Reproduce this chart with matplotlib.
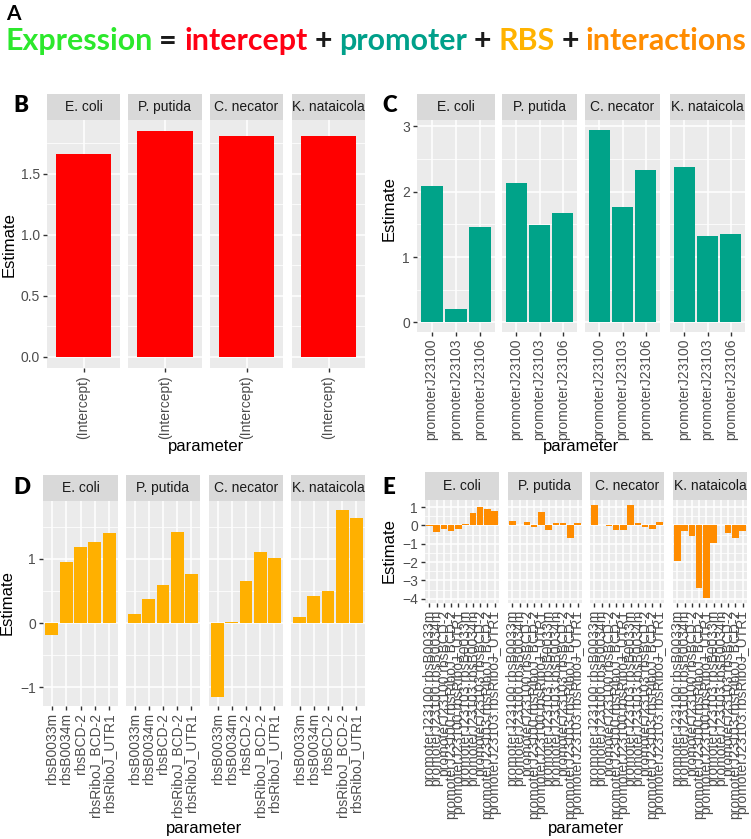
import numpy as np
import matplotlib
matplotlib.use("Agg")
import matplotlib.pyplot as plt

plt.rcParams['font.family'] = ['Liberation Sans', 'DejaVu Sans']

# data
species = ["E. coli", "P. putida", "C. necator", "K. nataicola"]

intercept_terms = ["(Intercept)"]
intercept_est = [[1.66], [1.85], [1.81], [1.81]]

promoter_terms = ["promoterJ23100", "promoterJ23103", "promoterJ23106"]
promoter_est = [[2.09, 0.20, 1.46],
                [2.14, 1.49, 1.67],
                [2.95, 1.76, 2.33],
                [2.38, 1.32, 1.36]]

rbs_terms = ["rbsB0033m", "rbsB0034m", "rbsBCD-2", "rbsRiboJ_BCD-2", "rbsRiboJ_UTR1"]
rbs_est = [[-0.18, 0.95, 1.18, 1.26, 1.40],
           [0.145, 0.375, 0.60, 1.42, 0.77],
           [-1.145, 0.02, 0.655, 1.11, 1.02],
           [0.09, 0.425, 0.50, 1.755, 1.63]]

inter_terms = ["promoterJ23100:rbsB0033m", "promoterJ23100:rbsB0034m",
               "promoterJ23100:rbsBCD-2", "promoterJ23100:rbsRiboJ_BCD-2",
               "promoterJ23100:rbsRiboJ_UTR1", "promoterJ23103:rbsB0033m",
               "promoterJ23103:rbsB0034m", "promoterJ23103:rbsBCD-2",
               "promoterJ23103:rbsRiboJ_BCD-2", "promoterJ23103:rbsRiboJ_UTR1"]
inter_est = [[-0.02, -0.35, -0.22, -0.29, -0.18, 0.09, 0.69, 0.98, 0.91, 0.78],
             [0.24, 0.01, 0.16, -0.09, 0.75, -0.24, 0.15, 0.11, -0.67, 0.15],
             [1.09, 0.01, -0.01, -0.27, -0.27, 1.13, 0.11, -0.09, -0.22, 0.20],
             [-1.95, -0.29, -0.58, -3.40, -3.98, -0.98, 0.01, -0.42, -0.69, -0.31]]

W, H = 751, 839
fig = plt.figure(figsize=(W / 100, H / 100), dpi=100)


def px_axes(l, r, top, bottom):
    """axes from pixel coords (top-left origin)"""
    return fig.add_axes([l / W, 1 - bottom / H, (r - l) / W, (bottom - top) / H])


def px_text(x, y, s, **kw):
    return fig.text(x / W, 1 - y / H, s, **kw)


def facet_panel(cols, strip_top, top, bottom, terms, values, color,
                yticks, ylabels, label_size=10):
    allv = [v for row in values for v in row] + [0]
    lo, hi = min(allv), max(allv)
    span = hi - lo
    lo, hi = lo - 0.05 * span, hi + 0.05 * span
    step = yticks[1] - yticks[0]
    minor = [t + step / 2 for t in [yticks[0] - step] + list(yticks)
             if lo < t + step / 2 < hi]
    xs = np.arange(1, len(terms) + 1)

    for i, sp in enumerate(species):
        l, r = cols[i]
        ax = px_axes(l, r, top, bottom)
        ax.set_facecolor('#EBEBEB')
        ax.bar(xs, values[i], width=0.9, color=color, zorder=3)
        ax.set_xlim(0.4, len(terms) + 0.6)
        ax.set_ylim(lo, hi)
        for s in ax.spines.values():
            s.set_visible(False)
        ax.set_axisbelow(True)
        ax.set_xticks(xs)
        ax.set_xticklabels(terms, rotation=90, fontsize=label_size, color='#4D4D4D')
        ax.set_yticks(yticks)
        ax.set_yticklabels(ylabels, fontsize=10, color='#4D4D4D')
        ax.set_yticks(minor, minor=True)
        ax.grid(True, which='major', color='white', linewidth=1.1)
        ax.grid(True, which='minor', axis='y', color='white', linewidth=0.55)
        ax.tick_params(which='major', length=3, width=1.0, color='#333333', pad=2)
        ax.tick_params(which='minor', length=0)
        if i > 0:
            ax.tick_params(axis='y', length=0, labelleft=False)

        strip = px_axes(l, r, strip_top, top)
        strip.set_facecolor('#D9D9D9')
        strip.set_xticks([])
        strip.set_yticks([])
        for s in strip.spines.values():
            s.set_visible(False)
        strip.text(0.5, 0.5, sp, ha='center', va='center', fontsize=10,
                   color='#1A1A1A', transform=strip.transAxes)


# panel B - intercept
facet_panel([(47, 120), (128, 202), (210, 283), (292, 365)], 94, 120, 368,
            intercept_terms, intercept_est, '#FF0000',
            [0, 0.5, 1.0, 1.5], ["0.0", "0.5", "1.0", "1.5"])
# panel C - promoter
facet_panel([(417, 495), (502, 577), (585, 660), (670, 745)], 94, 120, 332,
            promoter_terms, promoter_est, '#00A389',
            [0, 1, 2, 3], ["0", "1", "2", "3"])
# panel D - RBS
facet_panel([(43, 118), (126, 200), (209, 283), (291, 365)], 475, 501, 706,
            rbs_terms, rbs_est, '#FFB000',
            [-1, 0, 1], ["\u22121", "0", "1"])
# panel E - interactions
facet_panel([(425, 499), (508, 582), (590, 664), (673, 747)], 472, 500, 603,
            inter_terms, inter_est, '#FF8C00',
            [-4, -3, -2, -1, 0, 1],
            ["\u22124", "\u22123", "\u22122", "\u22121", "0", "1"])

# axis titles
for x, y in [(9, 245), (389, 209), (7, 603), (389, 551)]:
    px_text(x, y, "Estimate", rotation=90, ha='center', va='center', fontsize=12)
for x, y in [(206, 446), (581, 447), (204, 829), (586, 829)]:
    px_text(x, y, "parameter", ha='center', va='center', fontsize=12)

# panel letters
for x, y, s in [(13, 106, "B"), (382, 106, "C"), (13, 488, "D"), (382, 488, "E")]:
    px_text(x, y, s, ha='left', va='center', fontsize=16,
            family=['Lato', 'DejaVu Sans'], fontweight='heavy')
px_text(6, 14, "A", ha='left', va='center', fontsize=15,
        family=['Lato', 'DejaVu Sans'], fontweight='bold')

# equation line
pieces = [("Expression", '#2CE82C'), ("=", '#1A1A1A'), ("intercept", '#FF0014'),
          ("+", '#1A1A1A'), ("promoter", '#00A08A'), ("+", '#1A1A1A'),
          ("RBS", '#FFB300'), ("+", '#1A1A1A'), ("interactions", '#FF8C00')]
renderer = fig.canvas.get_renderer()


def draw_equation(size, keep):
    x = 5.0
    made = []
    for word, col in pieces:
        t = px_text(x, 50, word, ha='left', va='baseline', fontsize=size,
                    color=col, family=['Lato', 'DejaVu Sans'], fontweight='bold')
        bb = t.get_window_extent(renderer)
        x = bb.x1 + size * 0.32
        made.append(t)
    width = x - size * 0.32 - 5.0
    if not keep:
        for t in made:
            t.remove()
    return width


w0 = draw_equation(20, keep=False)
draw_equation(20 * 740 / w0, keep=True)

fig.savefig("out.png", dpi=100)
